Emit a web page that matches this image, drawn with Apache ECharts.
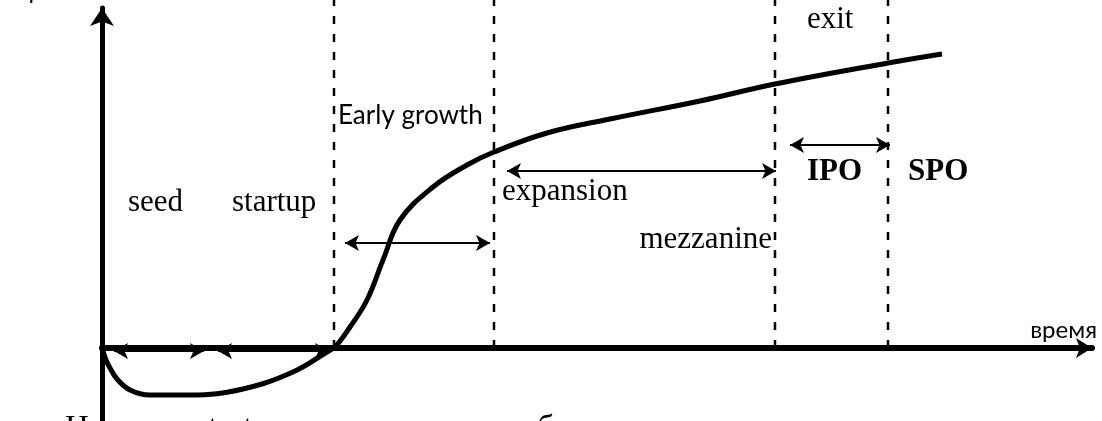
<!DOCTYPE html>
<html>
<head>
<meta charset="utf-8">
<script src="https://cdn.jsdelivr.net/npm/echarts@6/dist/echarts.min.js"></script>
<style>
  html, body { margin: 0; padding: 0; background: #fff; }
  #main { width: 1102px; height: 421px; }
</style>
</head>
<body>
<div id="main"></div>
<script>
// profit curve over time (x: time, y: profit)
var curveX = [0, 0.4, 0.8, 1.5, 2.8, 4.8, 8.8, 14.1, 19.1, 22.5, 23.4, 24.8, 26.5, 28.1, 29.8, 33.1, 36.5, 39.2, 44.5, 50.8, 59.8, 67.3, 78.6, 84];
var curveY = [0, -1.2, -2.0, -3.1, -4.2, -4.7, -4.7, -4.1, -2.4, -0.4, 0.2, 2.1, 4.8, 8.8, 12.8, 16.1, 18.3, 19.6, 21.5, 22.9, 24.7, 26.4, 28.5, 29.4];

// stage borders (dashed)
var stageBorders = [23.2, 39.2, 67.3, 78.6];

// stage ranges shown by double arrows: [from, to, level]
var seedRange = [1.2, 10.2, -0.3];
var startupRange = [11.6, 22.7, -0.3];
var earlyRange = [24.3, 38.8, 10.5];
var expansionRange = [40.5, 67.4, 17.7];
var ipoRange = [68.8, 78.8, 20.3];

// texts
var axisNames = ['прибыль', 'время'];
var stageNames = ['seed', 'startup', 'Early growth', 'expansion', 'mezzanine', 'exit', 'IPO', 'SPO'];
var caption = 'На этапе startup компания несет убыток';

var serif = '"Liberation Serif", "Times New Roman", serif';
var sans = 'Lato, "Open Sans", sans-serif';

var myChart = echarts.init(document.getElementById('main'));

function dashed(x) {
    return {
        type: 'line',
        data: [[x, 0], [x, 34.8]],
        symbol: 'none',
        clip: false,
        silent: true,
        lineStyle: { color: '#000', width: 2.5, type: [8, 10] }
    };
}

function arrowPair(r) {
    return [{ coord: [r[0], r[2]] }, { coord: [r[1], r[2]] }];
}

// text anchors: [x, y, text, font, align]
var labelItems = [
    [2.6, 14.5, stageNames[0], '31px ' + serif, 'left'],
    [13.0, 14.5, stageNames[1], '31px ' + serif, 'left'],
    [23.6, 23.2, stageNames[2], '26px ' + sans, 'left'],
    [40.0, 15.6, stageNames[3], '31px ' + serif, 'left'],
    [67.0, 10.8, stageNames[4], '31px ' + serif, 'right'],
    [70.5, 32.8, stageNames[5], '31px ' + serif, 'left'],
    [70.5, 17.6, stageNames[6], 'bold 31px ' + serif, 'left'],
    [80.6, 17.6, stageNames[7], 'bold 31px ' + serif, 'left'],
    [99.5, 1.8, axisNames[1], '24px ' + sans, 'right'],
    [-8.7, 35.7, axisNames[0], '24px ' + sans, 'left'],
    [-3.7, -8.15, caption, '33px ' + serif, 'left']
];

var series = [
    {
        type: 'line',
        data: curveX.map(function (x, i) { return [x, curveY[i]]; }),
        smooth: 0.4,
        symbol: 'none',
        silent: true,
        lineStyle: { color: '#000', width: 5 },
        markLine: {
            silent: true,
            symbol: ['arrow', 'arrow'],
            symbolSize: [12, 14],
            label: { show: false },
            lineStyle: { color: '#000', width: 2, type: 'solid' },
            data: [
                arrowPair(seedRange),
                arrowPair(startupRange),
                arrowPair(earlyRange),
                arrowPair(expansionRange),
                arrowPair(ipoRange)
            ]
        }
    },
    {
        type: 'custom',
        silent: true,
        clip: false,
        data: labelItems.map(function (d, i) { return [d[0], d[1], i]; }),
        renderItem: function (params, api) {
            var item = labelItems[api.value(2)];
            var p = api.coord([api.value(0), api.value(1)]);
            return {
                type: 'text',
                x: p[0],
                y: p[1],
                style: {
                    text: item[2],
                    font: item[3],
                    fill: '#000',
                    align: item[4],
                    verticalAlign: 'middle'
                }
            };
        }
    }
];
stageBorders.forEach(function (x) { series.push(dashed(x)); });

myChart.setOption({
    animation: false,
    backgroundColor: '#fff',
    grid: { left: 102, top: 8, width: 990, bottom: 0 },
    xAxis: {
        type: 'value',
        min: 0,
        max: 99,
        axisLine: {
            show: true,
            onZero: true,
            symbol: ['none', 'arrow'],
            symbolSize: [15, 16],
            lineStyle: { color: '#000', width: 6 }
        },
        axisTick: { show: false },
        axisLabel: { show: false },
        splitLine: { show: false }
    },
    yAxis: {
        type: 'value',
        min: -7.3,
        max: 34,
        axisLine: {
            show: true,
            onZero: true,
            symbol: ['none', 'arrow'],
            symbolSize: [18, 18],
            lineStyle: { color: '#000', width: 5 }
        },
        axisTick: { show: false },
        axisLabel: { show: false },
        splitLine: { show: false }
    },
    series: series
});
</script>
</body>
</html>
